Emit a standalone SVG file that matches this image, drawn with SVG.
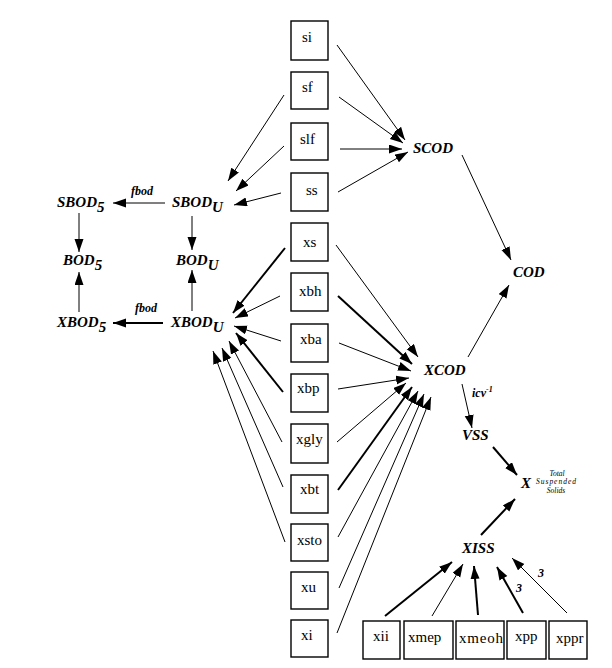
<svg xmlns="http://www.w3.org/2000/svg" width="612" height="668" viewBox="0 0 612 668">
<style>
.box rect{fill:#fff;stroke:#000;stroke-width:1.4}
.box text{font-family:"Liberation Serif",serif;font-size:15px;fill:#000}
.node text{font-family:"Liberation Serif",serif;font-size:15px;font-weight:bold;font-style:italic;fill:#000}
.node text.tiny{font-family:"Liberation Serif",serif;font-size:7.5px;font-weight:normal;font-style:italic;fill:#000;text-anchor:middle}
.lbl{font-family:"Liberation Serif",serif;font-size:12px;font-weight:bold;font-style:italic;fill:#000}
#connectors path{stroke:#000;stroke-width:1;fill:none;marker-end:url(#ah)}
#connectors path.t{stroke-width:2}
</style>
<defs>
<marker id="ah" markerUnits="userSpaceOnUse" markerWidth="14" markerHeight="10" refX="13" refY="4.5" orient="auto">
<path d="M0,0 L13,4.5 L0,9 z" fill="#000"/>
</marker>
</defs>
<rect width="612" height="668" fill="#fff"/>
<g id="connectors">
<path d="M337,45 L405,140"/>
<path d="M339,97 L403,143"/>
<path d="M340,149 L402,149"/>
<path d="M338,192 L408,152"/>
<path d="M462,155 L511,260"/>
<path d="M468,357 L509,285"/>
<path d="M462,384 L472,428"/>
<path d="M493,447 L517,475" class="t"/>
<path d="M481,535 L515,499" class="t"/>
<path d="M385,616 L452,562" class="t"/>
<path d="M432,616 L463,564"/>
<path d="M478,615 L474,566" class="t"/>
<path d="M523,613 L497,567" class="t"/>
<path d="M567,613 L512,558"/>
<path d="M284,95 L228,181"/>
<path d="M284,146 L236,191"/>
<path d="M281,193 L234,205"/>
<path d="M165,203 L113,203"/>
<path d="M163,323 L113,323" class="t"/>
<path d="M79,213 L79,252"/>
<path d="M79,312 L79,272"/>
<path d="M192,216 L192,250"/>
<path d="M192,311 L192,270"/>
<path d="M285,248 L233,313" class="t"/>
<path d="M280,296 L235,318"/>
<path d="M281,341 L234,326"/>
<path d="M283,392 L236,333" class="t"/>
<path d="M282,442 L229,341"/>
<path d="M283,487 L222,348"/>
<path d="M285,542 L213,351"/>
<path d="M336,245 L418,357"/>
<path d="M338,296 L412,364" class="t"/>
<path d="M339,343 L411,371"/>
<path d="M338,389 L409,378"/>
<path d="M337,442 L406,383"/>
<path d="M338,490 L412,387" class="t"/>
<path d="M338,537 L418,391"/>
<path d="M339,588 L424,394"/>
<path d="M337,633 L431,397"/>
</g>
<g id="si" class="box"><rect x="291" y="21" width="37" height="39"/><text x="302" y="42">si</text></g>
<g id="sf" class="box"><rect x="291" y="72" width="37" height="37"/><text x="302" y="92">sf</text></g>
<g id="slf" class="box"><rect x="291" y="123" width="37" height="37"/><text x="300" y="144">slf</text></g>
<g id="ss" class="box"><rect x="291" y="173" width="37" height="38"/><text x="306" y="195">ss</text></g>
<g id="xs" class="box"><rect x="291" y="223" width="37" height="38"/><text x="303" y="247">xs</text></g>
<g id="xbh" class="box"><rect x="291" y="273" width="37" height="38"/><text x="299" y="296">xbh</text></g>
<g id="xba" class="box"><rect x="291" y="324" width="37" height="38"/><text x="300" y="344">xba</text></g>
<g id="xbp" class="box"><rect x="291" y="374" width="37" height="38"/><text x="297" y="393">xbp</text></g>
<g id="xgly" class="box"><rect x="291" y="424" width="37" height="39"/><text x="296" y="444">xgly</text></g>
<g id="xbt" class="box"><rect x="291" y="475" width="37" height="38"/><text x="300" y="494">xbt</text></g>
<g id="xsto" class="box"><rect x="291" y="524" width="37" height="37"/><text x="297" y="545">xsto</text></g>
<g id="xu" class="box"><rect x="291" y="572" width="37" height="37"/><text x="301" y="592">xu</text></g>
<g id="xi" class="box"><rect x="291" y="620" width="37" height="37"/><text x="301" y="640">xi</text></g>
<g id="xii" class="box"><rect x="363" y="621" width="37" height="38"/><text x="373" y="641">xii</text></g>
<g id="xmep" class="box"><rect x="404" y="621" width="49" height="38"/><text x="408" y="642">xmep</text></g>
<g id="xmeoh" class="box"><rect x="456" y="621" width="48" height="38"/><text x="459" y="643" textLength="44">xmeoh</text></g>
<g id="xpp" class="box"><rect x="507" y="621" width="39" height="38"/><text x="515" y="641">xpp</text></g>
<g id="xppr" class="box"><rect x="549" y="621" width="38" height="38"/><text x="556" y="643">xppr</text></g>
<g id="SCOD" class="node"><text x="413" y="153">SCOD</text></g>
<g id="COD" class="node"><text x="513" y="277">COD</text></g>
<g id="XCOD" class="node"><text x="424" y="375">XCOD</text></g>
<g id="VSS" class="node"><text x="462" y="440">VSS</text></g>
<g id="X" class="node"><text x="521" y="488" font-size="16">X</text>
<text class="tiny" x="557" y="475.5">Total</text>
<text class="tiny" x="556" y="484" textLength="40">Suspended</text>
<text class="tiny" x="556" y="492.5">Solids</text></g>
<g id="XISS" class="node"><text x="462" y="553">XISS</text></g>
<g id="SBOD5" class="node"><text x="57" y="207">SBOD<tspan dy="5">5</tspan></text></g>
<g id="SBODU" class="node"><text x="172" y="207">SBOD<tspan dy="5">U</tspan></text></g>
<g id="BOD5" class="node"><text x="63" y="265">BOD<tspan dy="5">5</tspan></text></g>
<g id="BODU" class="node"><text x="176" y="265">BOD<tspan dy="5">U</tspan></text></g>
<g id="XBOD5" class="node"><text x="57" y="327">XBOD<tspan dy="5">5</tspan></text></g>
<g id="XBODU" class="node"><text x="171" y="327">XBOD<tspan dy="5">U</tspan></text></g>
<text class="lbl" x="131" y="195">fbod</text>
<text class="lbl" x="135" y="312">fbod</text>
<text class="lbl" x="472" y="397">icv<tspan font-size="8" dy="-5">-1</tspan></text>
<text class="lbl" x="538" y="577">3</text>
<text class="lbl" x="516" y="592">3</text>
</svg>
